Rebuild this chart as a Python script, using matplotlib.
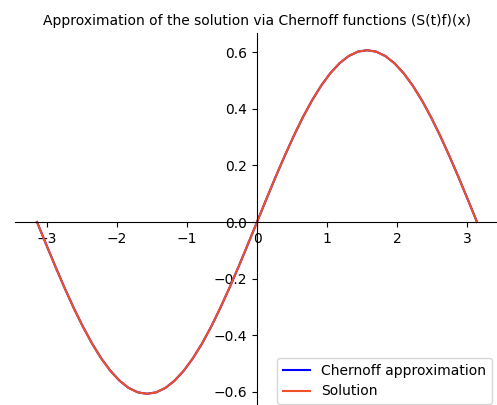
import numpy as np
from matplotlib import pyplot as plt

# sample points (x in radians)
x_vals = [-3.142, -3.011, -2.880, -2.749, -2.618, -2.487, -2.356, -2.225, -2.094, -1.963,
          -1.833, -1.702, -1.571, -1.440, -1.309, -1.178, -1.047, -0.916, -0.785, -0.654,
          -0.524, -0.393, -0.262, -0.131, 0.000, 0.131, 0.262, 0.393, 0.524, 0.654,
          0.785, 0.916, 1.047, 1.178, 1.309, 1.440, 1.571, 1.702, 1.833, 1.963,
          2.094, 2.225, 2.356, 2.487, 2.618, 2.749, 2.880, 3.011, 3.142]
solution = [0.0000, -0.0792, -0.1570, -0.2321, -0.3033, -0.3692, -0.4289, -0.4812, -0.5252, -0.5603,
            -0.5858, -0.6013, -0.6065, -0.6013, -0.5858, -0.5603, -0.5252, -0.4812, -0.4289, -0.3692,
            -0.3033, -0.2321, -0.1570, -0.0792, 0.0000, 0.0792, 0.1570, 0.2321, 0.3033, 0.3692,
            0.4289, 0.4812, 0.5252, 0.5603, 0.5858, 0.6013, 0.6065, 0.6013, 0.5858, 0.5603,
            0.5252, 0.4812, 0.4289, 0.3692, 0.3033, 0.2321, 0.1570, 0.0792, 0.0000]
chernoff = [0.0000, -0.0792, -0.1570, -0.2321, -0.3033, -0.3692, -0.4289, -0.4812, -0.5252, -0.5603,
            -0.5858, -0.6013, -0.6064, -0.6013, -0.5858, -0.5603, -0.5252, -0.4812, -0.4289, -0.3692,
            -0.3033, -0.2321, -0.1570, -0.0792, 0.0000, 0.0792, 0.1570, 0.2321, 0.3033, 0.3692,
            0.4289, 0.4812, 0.5252, 0.5603, 0.5858, 0.6013, 0.6064, 0.6013, 0.5858, 0.5603,
            0.5252, 0.4812, 0.4289, 0.3692, 0.3033, 0.2321, 0.1570, 0.0792, 0.0000]

fig = plt.figure(figsize=(4.97, 4.05), dpi=100)
ax = fig.add_axes([15 / 497, -6 / 405, 484 / 497, 378 / 405])

ax.plot(x_vals, chernoff, color='blue', label='Chernoff approximation')
ax.plot(x_vals, solution, color='#f05028', label='Solution')

ax.spines['left'].set_position('zero')
ax.spines['bottom'].set_position('zero')
ax.spines['right'].set_visible(False)
ax.spines['top'].set_visible(False)

ax.set_title('Approximation of the solution via Chernoff functions (S(t)f)(x)', fontsize=10)
fig.legend(loc='lower right', bbox_to_anchor=(492 / 497, 1 / 405), borderaxespad=0)

fig.savefig('out.png', dpi=100)
